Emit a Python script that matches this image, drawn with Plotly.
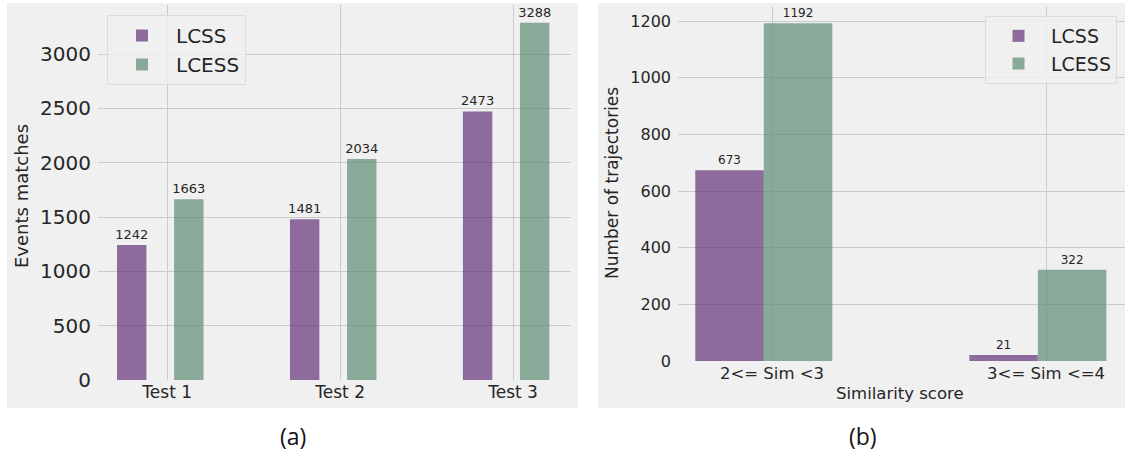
import plotly.graph_objects as go

W, H = 1125, 456

# ---- data ----
tests = ["Test 1", "Test 2", "Test 3"]
lcss_events = [1242, 1481, 2473]
lcess_events = [1663, 2034, 3288]

sim_bins = ["2<= Sim <3", "3<= Sim <=4"]
lcss_traj = [673, 21]
lcess_traj = [1192, 322]

series_names = ["LCSS", "LCESS"]
left_yticks = [0, 500, 1000, 1500, 2000, 2500, 3000]
right_yticks = [0, 200, 400, 600, 800, 1000, 1200]

# ---- style ----
PURPLE = "rgba(99,50,119,0.7)"
GREEN = "rgba(94,140,116,0.7)"
BG = "#f0f0f0"
GRID = "#cbcbcb"
INK = "#262626"
FONT = "DejaVu Sans"


def px_x(p):
    return p / W


def px_y(p):
    return 1 - p / H


left_idx = list(range(len(tests)))
right_idx = list(range(len(sim_bins)))

fig = go.Figure()

common = dict(marker_line_width=0, textposition="outside", constraintext="none",
              cliponaxis=False, hoverinfo="skip")

fig.add_trace(go.Bar(x=left_idx, y=lcss_events, name=series_names[0], width=0.17, offset=-0.29,
                     marker_color=PURPLE, text=lcss_events,
                     textfont=dict(size=13, color=INK, family=FONT),
                     xaxis="x", yaxis="y", legend="legend", **common))
fig.add_trace(go.Bar(x=left_idx, y=lcess_events, name=series_names[1], width=0.17, offset=0.04,
                     marker_color=GREEN, text=lcess_events,
                     textfont=dict(size=13, color=INK, family=FONT),
                     xaxis="x", yaxis="y", legend="legend", **common))

fig.add_trace(go.Bar(x=right_idx, y=lcss_traj, name=series_names[0], width=0.25, offset=-0.28,
                     marker_color=PURPLE, text=lcss_traj,
                     textfont=dict(size=12, color=INK, family=FONT),
                     xaxis="x2", yaxis="y2", legend="legend2", **common))
fig.add_trace(go.Bar(x=right_idx, y=lcess_traj, name=series_names[1], width=0.25, offset=-0.03,
                     marker_color=GREEN, text=lcess_traj,
                     textfont=dict(size=12, color=INK, family=FONT),
                     xaxis="x2", yaxis="y2", legend="legend2", **common))

axis_common = dict(showgrid=True, gridcolor=GRID, gridwidth=1.2, zeroline=False,
                   showline=False, ticks="", automargin=False,
                   tickfont=dict(family=FONT, color=INK))

fig.update_layout(
    width=W, height=H,
    margin=dict(l=0, r=0, t=0, b=0),
    paper_bgcolor="white",
    plot_bgcolor=BG,
    barmode="overlay",
    font=dict(family=FONT, color=INK),
    xaxis=dict(domain=[px_x(98), px_x(571)], range=[-0.40, 2.335], anchor="y",
               tickmode="array", tickvals=left_idx, ticktext=tests, **axis_common),
    yaxis=dict(domain=[px_y(380), px_y(5)], range=[0, max(lcess_events) * 1.05], anchor="x",
               tickmode="array", tickvals=left_yticks, ticklabelstandoff=6, **axis_common),
    xaxis2=dict(domain=[px_x(678), 1.0], range=[-0.343, 1.288], anchor="y2",
                tickmode="array", tickvals=right_idx, ticktext=sim_bins, **axis_common),
    yaxis2=dict(domain=[px_y(361), px_y(6.4)], range=[0, max(lcess_traj) * 1.05], anchor="x2",
                tickmode="array", tickvals=right_yticks, ticklabelstandoff=6, **axis_common),
    legend=dict(x=px_x(107), y=px_y(15), xanchor="left", yanchor="top",
                bgcolor="rgba(240,240,240,0.85)", bordercolor="#dcdcdc", borderwidth=1,
                font=dict(size=20, family=FONT, color=INK), itemwidth=58),
    legend2=dict(x=px_x(985), y=px_y(16), xanchor="left", yanchor="top",
                 bgcolor="rgba(240,240,240,0.85)", bordercolor="#dcdcdc", borderwidth=1,
                 font=dict(size=19, family=FONT, color=INK), itemwidth=55),
    showlegend=True,
)

fig.update_layout(
    xaxis_tickfont_size=17, yaxis_tickfont_size=20,
    xaxis2_tickfont_size=16.5, yaxis2_tickfont_size=16,
)

# panel backgrounds
fig.add_shape(type="rect", xref="paper", yref="paper", layer="below",
              x0=px_x(7), x1=px_x(578), y0=px_y(408), y1=px_y(3),
              fillcolor=BG, line_width=0)
fig.add_shape(type="rect", xref="paper", yref="paper", layer="below",
              x0=px_x(598), x1=1.0, y0=px_y(408), y1=px_y(3),
              fillcolor=BG, line_width=0)

ann = [
    dict(text="Events matches", x=px_x(21), y=px_y(196), textangle=-90,
         font=dict(size=18, family=FONT, color=INK)),
    dict(text="Number of trajectories", x=px_x(612), y=px_y(183), textangle=-90,
         font=dict(size=17, family=FONT, color=INK)),
    dict(text="Similarity score", x=px_x(900), y=px_y(393),
         font=dict(size=16.5, family=FONT, color=INK)),
    dict(text="(a)", x=px_x(293), y=px_y(436),
         font=dict(size=23, family="Open Sans", color="#111111")),
    dict(text="(b)", x=px_x(863), y=px_y(436),
         font=dict(size=23, family="Open Sans", color="#111111")),
]
for a in ann:
    fig.add_annotation(xref="paper", yref="paper", xanchor="center", yanchor="middle",
                       showarrow=False, **a)

fig.write_html("out.html", config={"displayModeBar": False},
               post_script="document.body.style.margin='0';")
